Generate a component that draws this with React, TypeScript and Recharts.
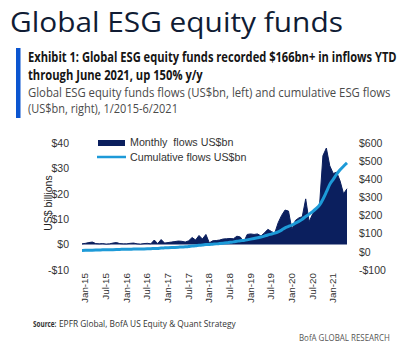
import React, { useLayoutEffect, useRef, useState } from 'react';
import { ComposedChart, Area, Line, XAxis, YAxis, Legend } from 'recharts';

const MONTHS = ['Jan', 'Feb', 'Mar', 'Apr', 'May', 'Jun', 'Jul', 'Aug', 'Sep', 'Oct', 'Nov', 'Dec'];
const YEARS = ['15', '16', '17', '18', '19', '20', '21'];

// Monthly flows, US$bn (left axis), Jan-15 .. Jun-21
const MONTHLY_FLOWS = [
  0.3, 0.5, 0.8, 1.0, 0.4, 0.3, 0.4, 0.2, 0.3, 0.6, 0.8, 0.4,
  0.3, 0.3, 0.5, 0.6, 0.3, 0.2, 0.4, 0.5, 0.3, 1.8, 0.4, 2.0,
  0.6, 0.8, 1.0, 1.2, 1.4, 1.3, 1.0, 1.5, 2.8, 1.8, 3.6, 2.2,
  4.0, 0.7, 1.5, 1.6, 1.8, 2.2, 2.3, 2.4, 2.3, 3.3, 3.0, 1.0,
  4.0, 4.2, 4.0, 4.2, 3.4, 4.6, 6.0, 5.2, 4.5, 8.6, 11.5, 13.6,
  13.2, 6.0, 9.5, 10.5, 11.0, 18.0, 9.0, 12.0, 14.0, 15.0, 35.0, 38.0,
  31.0, 28.0, 28.5, 25.0, 20.0, 22.0,
];

// Cumulative flows, US$bn (right axis)
const CUMULATIVE_FLOWS = [
  8, 8.5, 9, 9.5, 10, 10.5, 11, 11.3, 11.7, 12.2, 13, 13.5,
  14, 14.3, 14.8, 15.3, 15.6, 16, 16.4, 16.8, 17.3, 18.5, 19, 21,
  22, 22.7, 23.5, 24.5, 25.7, 27, 28, 29.5, 32, 33.5, 36, 37.5,
  40, 41, 42.5, 44, 46, 48, 50, 52.5, 55, 58, 61, 63,
  66, 70, 74, 78, 82, 87, 93, 98, 103, 110, 120, 132,
  140, 148, 158, 168, 180, 195, 208, 222, 238, 257, 290, 330,
  372, 400, 428, 452, 472, 490,
];

const X_TICKS = [0, 6, 12, 18, 24, 30, 36, 42, 48, 54, 60, 66, 72];
const LEFT_TICKS = [-10, 0, 10, 20, 30, 40];
const RIGHT_TICKS = [-100, 0, 100, 200, 300, 400, 500, 600];

const CATEGORIES: string[] = [];
YEARS.forEach((y) => MONTHS.forEach((m) => CATEGORIES.push(`${m}-${y}`)));

const data = MONTHLY_FLOWS.map((m, i) => ({
  i,
  label: CATEGORIES[i],
  monthly: m,
  cumulative: CUMULATIVE_FLOWS[i],
}));

const NAVY = '#0b1f5e';
const LIGHT = '#1d9ad8';
const AXIS_FONT = 'Liberation Sans, Arial, sans-serif';
const HEAD_FONT = 'Open Sans, sans-serif';

const money = (v: number) => (v < 0 ? `-$${Math.abs(v)}` : `$${v}`);

// Text squeezed horizontally (via transform) to a target width
const FitText = (props: any) => {
  const { x, y, width, children, ...rest } = props;
  const ref = useRef<SVGTextElement>(null);
  const [s, setS] = useState(1);
  useLayoutEffect(() => {
    if (ref.current) {
      const w = ref.current.getComputedTextLength();
      if (w > 0) setS(width / w);
    }
  }, [width]);
  return (
    <text ref={ref} x={0} y={0} transform={`translate(${x} ${y}) scale(${s} 1)`} {...rest}>
      {children}
    </text>
  );
};

const XTick = (props: any) => {
  const { x, y, payload } = props;
  const px = x + 3;
  return (
    <text
      x={px}
      y={y}
      transform={`rotate(-90 ${px} ${y})`}
      textAnchor="end"
      dy="0.35em"
      fontSize={9.8}
      fill="#333"
      fontFamily={AXIS_FONT}
    >
      {CATEGORIES[payload.value]}
    </text>
  );
};

const LegendContent = () => (
  <svg width={170} height={30} style={{ display: 'block' }}>
    <rect x={3} y={4} width={27} height={6} fill={NAVY} />
    <text x={35} y={9.5} fontSize={10.7} fill="#333" fontFamily={AXIS_FONT} style={{ whiteSpace: 'pre' }}>
      Monthly  flows US$bn
    </text>
    <line x1={2} x2={31} y1={21} y2={21} stroke={LIGHT} strokeWidth={2.5} />
    <text x={35} y={24.5} fontSize={10.7} fill="#333" fontFamily={AXIS_FONT}>
      Cumulative flows US$bn
    </text>
  </svg>
);

export default function App() {
  return (
    <div style={{ position: 'absolute', left: 0, top: 0, width: 418, height: 355, background: '#fff', overflow: 'hidden' }}>
      <div style={{ position: 'absolute', left: 0, top: 0 }}>
        <ComposedChart width={418} height={355} data={data} margin={{ top: 143, right: 21, bottom: 45, left: 42 }}>
          <XAxis
            dataKey="i"
            type="number"
            domain={[0, 77]}
            ticks={X_TICKS}
            tick={<XTick />}
            axisLine={false}
            tickLine={false}
            tickSize={0}
            tickMargin={3}
            height={40}
            interval={0}
          />
          <YAxis
            yAxisId="left"
            domain={[-10, 40]}
            ticks={LEFT_TICKS}
            tickFormatter={money}
            axisLine={false}
            tickLine={false}
            tickSize={0}
            tickMargin={13}
            width={40}
            interval={0}
            tick={{ fontSize: 10.5, fill: '#333', fontFamily: AXIS_FONT }}
          />
          <YAxis
            yAxisId="right"
            orientation="right"
            domain={[-100, 600]}
            ticks={RIGHT_TICKS}
            tickFormatter={money}
            axisLine={false}
            tickLine={false}
            tickSize={0}
            tickMargin={12}
            width={50}
            interval={0}
            tick={{ fontSize: 10.5, fill: '#333', fontFamily: AXIS_FONT, textAnchor: 'start' }}
          />
          <Legend
            layout="vertical"
            align="center"
            verticalAlign="middle"
            content={<LegendContent />}
            wrapperStyle={{ left: 95, top: 136, width: 170, height: 30 }}
          />
          <Area
            yAxisId="left"
            dataKey="monthly"
            name="Monthly flows US$bn"
            type="linear"
            stroke={NAVY}
            strokeWidth={1}
            fill={NAVY}
            fillOpacity={1}
            baseValue={0}
            dot={false}
            activeDot={false}
            isAnimationActive={false}
          />
          <Line
            yAxisId="right"
            dataKey="cumulative"
            name="Cumulative flows US$bn"
            type="monotone"
            stroke={LIGHT}
            strokeWidth={3}
            dot={false}
            activeDot={false}
            isAnimationActive={false}
          />
        </ComposedChart>
      </div>
      <svg width={418} height={355} style={{ position: 'absolute', left: 0, top: 0, pointerEvents: 'none' }}>
        <FitText x={10} y={31.5} width={333} fontSize={28} fontFamily={HEAD_FONT} fill="#101c34">
          Global ESG equity funds
        </FitText>
        <rect x={16} y={48} width={4.5} height={70} fill="#0b55d0" />
        <FitText x={28} y={62} width={369} fontSize={13.5} fontWeight="bold" fontFamily={HEAD_FONT} fill="#151515">
          Exhibit 1: Global ESG equity funds recorded $166bn+ in inflows YTD
        </FitText>
        <FitText x={28} y={79.5} width={175} fontSize={13.5} fontWeight="bold" fontFamily={HEAD_FONT} fill="#151515">
          through June 2021, up 150% y/y
        </FitText>
        <FitText x={28} y={97} width={363} fontSize={12} fontFamily={HEAD_FONT} fill="#4a4a4a">
          Global ESG equity funds flows (US$bn, left) and cumulative ESG flows
        </FitText>
        <FitText x={28} y={113} width={150} fontSize={12} fontFamily={HEAD_FONT} fill="#4a4a4a">
          (US$bn, right), 1/2015-6/2021
        </FitText>
        <text x={48} y={203} transform="rotate(-90 48 203)" textAnchor="middle" dy="0.35em" fontSize={10.5} fill="#222" fontFamily={AXIS_FONT}>
          US$ billions
        </text>
        <FitText x={33} y={327} width={23.5} fontSize={9.5} fontWeight="bold" fontFamily={HEAD_FONT} fill="#333">
          Source:
        </FitText>
        <FitText x={59} y={327} width={177} fontSize={9.5} fontFamily={HEAD_FONT} fill="#333">
          EPFR Global, BofA US Equity &amp; Quant Strategy
        </FitText>
        <FitText x={299} y={340.5} width={91} fontSize={9} fontFamily={HEAD_FONT} fill="#555">
          BofA GLOBAL RESEARCH
        </FitText>
      </svg>
    </div>
  );
}
